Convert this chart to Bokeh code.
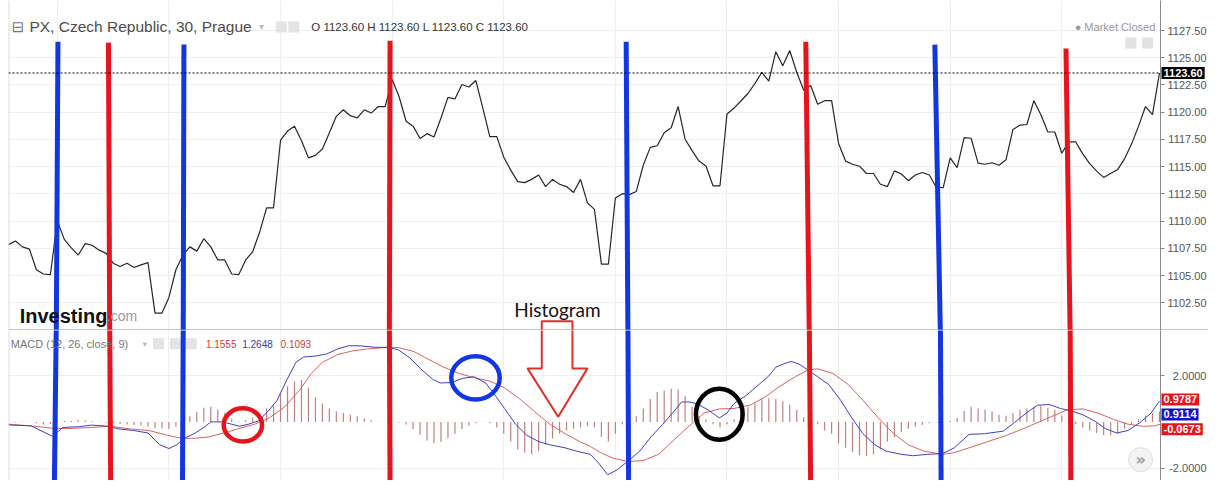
from bokeh.plotting import figure
from bokeh.layouts import column, row
from bokeh.models import Range1d, FixedTicker, Label, Span, NumeralTickFormatter, LinearAxis
from bokeh.embed import file_html
from bokeh.resources import INLINE

# ---------------- data ----------------
bars = list(range(166))
price = [
    1107.84, 1108.17, 1107.63, 1107.42, 1105.53, 1105.14, 1105.08, 1110.00, 1108.32, 1107.54,
    1106.88, 1107.93, 1107.78, 1107.33, 1107.03, 1106.13, 1105.83, 1106.13, 1105.74, 1105.98,
    1106.19, 1101.55, 1101.55, 1102.99, 1105.53, 1106.88, 1107.63, 1107.24, 1108.38, 1107.63,
    1106.43, 1106.43, 1105.14, 1105.08, 1106.43, 1107.18, 1108.97, 1111.22, 1111.22, 1117.43,
    1118.27, 1118.72, 1117.37, 1115.81, 1116.03, 1116.62, 1118.12, 1119.62, 1120.22, 1119.68,
    1119.47, 1120.22, 1119.92, 1120.52, 1120.52, 1123.00, 1121.42, 1119.17, 1118.72, 1117.58,
    1118.03, 1117.73, 1119.47, 1121.36, 1121.21, 1122.55, 1122.32, 1122.91, 1120.37, 1117.76,
    1117.76, 1115.87, 1114.68, 1113.62, 1113.53, 1113.83, 1114.23, 1113.17, 1113.83, 1113.38,
    1113.17, 1112.63, 1113.83, 1111.67, 1111.08, 1106.04, 1106.04, 1112.12, 1112.52, 1112.43,
    1112.72, 1115.13, 1116.77, 1116.92, 1118.12, 1118.57, 1120.52, 1117.52, 1116.47, 1115.51,
    1115.04, 1113.24, 1113.24, 1119.83, 1120.37, 1121.03, 1121.72, 1122.62, 1123.67, 1122.86,
    1125.56, 1124.26, 1125.67, 1123.67, 1122.01, 1122.46, 1120.73, 1121.06, 1121.06, 1117.13,
    1115.51, 1115.22, 1115.04, 1114.37, 1114.37, 1113.38, 1113.17, 1114.61, 1114.32, 1113.71,
    1114.23, 1114.46, 1114.23, 1113.11, 1113.08, 1115.81, 1114.91, 1117.67, 1117.61, 1115.33,
    1115.22, 1115.36, 1115.13, 1115.63, 1118.42, 1118.81, 1118.87, 1121.06, 1119.77, 1118.18,
    1118.18, 1116.23, 1117.27, 1117.27, 1116.17, 1115.27, 1114.59, 1114.01, 1114.37, 1114.73,
    1115.72, 1117.07, 1118.72, 1120.52, 1119.77, 1123.60,
]
hist = [
    0.02, -0.02, 0.03, 0.02, -0.05, -0.10, -0.08, 0.05, 0.06, 0.05,
    0.08, 0.07, 0.04, 0.02, -0.03, -0.05, -0.08, -0.10, -0.12, -0.15,
    -0.20, -0.25, -0.28, -0.30, -0.20, -0.10, 0.25, 0.45, 0.62, 0.66,
    0.55, 0.40, 0.15, 0.03, 0.08, 0.20, 0.35, 0.59, 0.73, 1.21,
    1.55, 1.76, 1.82, 1.48, 1.07, 0.80, 0.59, 0.46, 0.39, 0.32,
    0.25, 0.16, 0.08, 0.02, 0.01, 0.00, -0.02, -0.10, -0.30, -0.55,
    -0.80, -0.90, -0.85, -0.70, -0.50, -0.30, -0.15, -0.05, 0.02, -0.05,
    -0.23, -0.50, -0.84, -1.18, -1.32, -1.39, -1.25, -0.98, -0.70, -0.50,
    -0.36, -0.29, -0.23, -0.16, -0.23, -0.63, -0.84, -0.50, -0.09, 0.00,
    0.25, 0.59, 1.00, 1.30, 1.37, 1.44, 1.41, 1.14, 0.66, 0.25,
    0.12, -0.09, -0.23, -0.09, 0.12, 0.46, 0.66, 0.80, 0.98, 1.03,
    1.00, 0.89, 0.76, 0.53, 0.21, 0.02, -0.09, -0.36, -0.50, -0.91,
    -1.11, -1.29, -1.43, -1.46, -1.39, -1.18, -0.84, -0.64, -0.43, -0.29,
    -0.20, -0.12, -0.05, -0.02, -0.01, 0.05, 0.18, 0.48, 0.66, 0.59,
    0.53, 0.46, 0.32, 0.28, 0.39, 0.53, 0.59, 0.66, 0.70, 0.62,
    0.53, 0.29, 0.05, -0.09, -0.23, -0.36, -0.47, -0.57, -0.57, -0.50,
    -0.29, -0.09, 0.12, 0.29, 0.39, 0.46,
]
macd_x = [
    0, 3.2, 6.3, 7.8, 10, 11.9, 14.1, 15.7, 17.9, 20,
    21.7, 23, 24.1, 25.2, 26.6, 28, 29, 30.6, 32, 33.1,
    34.4, 35.8, 37.2, 38.5, 39.9, 41.2, 42.3, 43.9, 45.6, 47.2,
    48.8, 50.5, 52.6, 54.5, 55.9, 57.5, 59.1, 60.8, 61.9, 63.5,
    65.1, 66.7, 68.4, 69.5, 71.1, 72.7, 74.3, 76, 77.6, 79.8,
    81.4, 83.4, 84.5, 85.9, 87.2, 88.9, 90.5, 92.1, 93.8, 95.4,
    96.5, 97.6, 98.6, 100.3, 101.9, 103, 104, 105.7, 107.3, 108.9,
    110, 111.1, 112.2, 113.3, 114.7, 116, 117.6, 119.3, 120.9, 122.5,
    124.2, 125.8, 128, 129.6, 131.8, 133.9, 135.6, 137.7, 139.9, 142.6,
    144.2, 145.9, 147.5, 149.2, 150.8, 152.4, 154, 155.7, 157.3, 158.9,
    160.5, 162.2, 163.8, 165,
]
macd_y = [
    -0.12, -0.16, -0.61, -0.23, -0.20, -0.13, -0.17, -0.29, -0.36, -0.47,
    -0.98, -1.14, -0.98, -0.70, -0.50, -0.23, 0.01, 0.01, -0.09, -0.18,
    -0.09, 0.05, 0.46, 0.94, 1.82, 2.58, 2.81, 2.85, 2.94, 3.16,
    3.30, 3.29, 3.23, 3.22, 3.12, 2.78, 2.30, 1.85, 1.69, 1.71,
    1.89, 1.96, 1.69, 1.27, 0.59, -0.09, -0.57, -0.84, -0.98, -1.11,
    -1.25, -1.39, -1.73, -2.27, -2.07, -1.66, -1.25, -0.64, -0.09, 0.46,
    0.87, 0.87, 0.80, 0.53, 0.18, 0.39, 0.80, 1.14, 1.55, 1.96,
    2.37, 2.51, 2.62, 2.51, 2.23, 1.96, 1.62, 0.94, 0.18, -0.50,
    -0.98, -1.25, -1.39, -1.45, -1.39, -1.36, -1.11, -0.53, -0.50, -0.39,
    -0.02, 0.39, 0.73, 0.76, 0.59, 0.48, 0.32, 0.05, -0.29, -0.47,
    -0.36, -0.02, 0.39, 0.91,
]
signal_x = [
    0, 3.8, 6.5, 9.2, 11.9, 14.6, 17.3, 20.1, 22.8, 24.9,
    26.6, 28.7, 30.9, 33.1, 35.3, 37.4, 39.6, 41.8, 43.4, 45.0,
    47.2, 49.4, 51.5, 54.3, 55.9, 58.1, 60.2, 62.4, 64.6, 66.7,
    68.9, 71.1, 73.3, 75.4, 77.6, 79.8, 81.9, 83.4, 85.1, 86.7,
    88.9, 91.0, 93.2, 95.4, 97.6, 99.7, 101.9, 104, 106.3, 108.4,
    110.6, 112.8, 114.7, 116, 118.2, 120.4, 122.5, 124.7, 126.9, 129,
    131.2, 133.9, 135.6, 137.7, 140.4, 143.1, 145.9, 148.6, 151.8, 154,
    156.2, 158.4, 160.5, 162.7, 164.3, 165.1,
]
signal_y = [
    -0.09, -0.18, -0.27, -0.27, -0.23, -0.18, -0.29, -0.36, -0.57, -0.70,
    -0.70, -0.64, -0.47, -0.27, -0.09, 0.18, 0.66, 1.41, 2.10, 2.58,
    2.92, 3.08, 3.16, 3.23, 3.22, 3.05, 2.71, 2.37, 2.10, 1.92,
    1.78, 1.48, 1.00, 0.46, -0.09, -0.50, -0.84, -1.05, -1.35, -1.56,
    -1.70, -1.66, -1.39, -0.77, -0.16, 0.39, 0.57, 0.59, 0.73, 1.07,
    1.55, 1.96, 2.26, 2.30, 2.10, 1.62, 0.94, 0.18, -0.50, -0.98,
    -1.25, -1.39, -1.32, -1.11, -0.84, -0.57, -0.23, 0.12, 0.53, 0.57,
    0.39, 0.12, -0.09, -0.18, -0.16, -0.09,
]
price_ticks = [1102.5, 1105.0, 1107.5, 1110.0, 1112.5, 1115.0, 1117.5, 1120.0, 1122.5, 1125.0, 1127.5]
macd_ticks = [-2.0, 2.0]
grid_bars = [7, 23, 39, 55, 71, 87, 103, 119, 135, 151]
last_price = 1123.60
macd_last = 0.9114
signal_last = -0.0673
hist_last = 0.9787
hover_values = ["1.1555", "1.2648", "0.1093"]

# annotation marks (hand-drawn lines, circles, arrow)
mark_x_top = [7.09, 14.33, 25.15, 54.7, 88.55, 114.3, 132.8, 151.6]
mark_x_mid = [6.85, 14.51, 25.05, 54.6, 88.8, 114.8, 133.6, 152.2]
mark_x_bot = [6.57, 14.65, 24.94, 54.7, 88.9, 115.0, 133.7, 152.3]
mark_y_top = [1126.48, 1126.39, 1126.21, 1126.57, 1126.48, 1126.48, 1126.21, 1125.85]
BLUE = "#1236e0"
RED = "#e8141c"
mark_colors = [BLUE, RED, BLUE, RED, BLUE, RED, BLUE, RED]
ring_x = [33.6, 66.95, 101.9]
ring_y = [-0.12, 1.91, 0.34]
ring_w = [5.5, 6.95, 6.7]
ring_h = [1.43, 1.87, 2.21]
ring_colors = ["#e8141c", "#1236e0", "#000000"]

FONT = "Liberation Sans"
X0, X1 = 0.0, 165.15
P0, P1 = 1099.95, 1130.26
M0, M1 = -2.52, 3.955
FW = 1152
SW = 48
TOP_H, BOT_H = 330, 150
xr = Range1d(X0, X1)
yr_price = Range1d(P0, P1)
yr_macd = Range1d(M0, M1)


def txt(p, x, y, s, size="11px", color="#555555", font=FONT, align="left",
        baseline="middle", style="normal", **kw):
    p.add_layout(Label(x=x, y=y, text=s, text_font_size=size, text_color=color,
                       text_font=font, text_align=align, text_baseline=baseline,
                       text_font_style=style, **kw))


def panel(h, yr):
    p = figure(frame_width=FW, frame_height=h, x_range=xr, y_range=yr,
               x_axis_location=None, y_axis_location=None, toolbar_location=None,
               output_backend="svg", min_border=0, min_border_left=8)
    p.outline_line_color = None
    p.xgrid.ticker = FixedTicker(ticks=grid_bars)
    p.xgrid.grid_line_color = "#efefef"
    p.ygrid.grid_line_color = "#efefef"
    p.add_layout(Span(location=0.05, dimension="height", line_color="#cccccc", line_width=1))
    return p


def strip(h, yr, ticks, fmt):
    s = figure(frame_width=SW, frame_height=h, x_range=Range1d(0, 1), y_range=yr,
               x_axis_location=None, y_axis_location=None, toolbar_location=None,
               output_backend="svg", min_border=0)
    s.outline_line_color = None
    s.xgrid.grid_line_color = None
    s.ygrid.grid_line_color = None
    ax = LinearAxis(ticker=FixedTicker(ticks=ticks), formatter=NumeralTickFormatter(format=fmt))
    ax.major_label_text_font = FONT
    ax.major_label_text_font_size = "11px"
    ax.major_label_text_color = "#555555"
    ax.axis_line_color = "#8a8a8a"
    ax.major_tick_line_color = "#8a8a8a"
    ax.major_tick_out = 0
    ax.major_tick_in = 4
    ax.minor_tick_out = 0
    ax.minor_tick_in = 0
    ax.minor_tick_line_color = None
    ax.major_label_standoff = -46
    s.add_layout(ax, "left")
    return s


def value_box(s, y, text, color):
    s.add_layout(Label(x=0, y=y, x_offset=1, text=text, text_color="white", text_font=FONT,
                       text_font_size="11px", text_font_style="bold", padding=2,
                       text_baseline="middle", background_fill_color=color))


# ---------------- price panel ----------------
top = panel(TOP_H, yr_price)
top.ygrid.ticker = FixedTicker(ticks=price_ticks)
top.add_layout(Span(location=P0 + 0.05, dimension="width", line_color="#9a9a9a", line_width=1))
top.add_layout(Span(location=last_price, dimension="width", line_color="#000000",
                    line_width=1, line_dash="2 2"))

top.line(bars, price, line_color="#262626", line_width=1.2)

# header
txt(top, 0.45, 1127.83, "\u229f", size="15px", color="#777777", font="DejaVu Sans")
txt(top, 3.0, 1127.83, "PX, Czech Republic, 30, Prague", size="15.5px", color="#4d4d4d")
txt(top, 35.9, 1127.83, "\u25be", size="10px", color="#bbbbbb", font="DejaVu Sans")
top.rect([39.1, 40.9], [1127.83, 1127.83], width=11, height=11, width_units="screen",
         height_units="screen", fill_color="#e4e4e4", line_color=None)
ohlc = "O {0:.2f} H {0:.2f} L {0:.2f} C {0:.2f}".format(last_price)
txt(top, 43.4, 1127.83, ohlc, size="11.5px", color="#333333")
txt(top, 164.4, 1127.83, "\u25cf Market Closed", size="11px", color="#9a9a9a", align="right")
top.rect([160.9, 163.3], [1126.35, 1126.35], width=11, height=11, width_units="screen",
         height_units="screen", fill_color="#e2e2e2", line_color=None)

# logo
txt(top, 1.6, 1101.3, "Investing", size="20px", color="#111111", baseline="alphabetic", style="bold")
txt(top, 14.1, 1101.3, ".com", size="14px", color="#9a9a9a", baseline="alphabetic")

# histogram annotation text + arrow shaft (top part)
txt(top, 78.7, 1101.84, "Histogram", size="19px", color="#111111", font="Lato",
    align="center", baseline="alphabetic")
top.line([76.45, 76.45, 80.85, 80.85], [P0 - 1, 1100.8, 1100.8, P0 - 1],
         line_color="#e0302a", line_width=2)

# marker lines (top part)
top.segment(x0=mark_x_top, y0=mark_y_top, x1=mark_x_mid, y1=[P0 - 0.5] * 8,
            line_color=mark_colors, line_width=5, line_cap="butt")

top_axis = strip(TOP_H, yr_price, price_ticks, "0.00")
top_axis.add_layout(Span(location=P0 + 0.05, dimension="width", line_color="#9a9a9a", line_width=1))
value_box(top_axis, last_price, "{:.2f}".format(last_price), "#000000")

# ---------------- MACD panel ----------------
bot = panel(BOT_H, yr_macd)
bot.ygrid.ticker = FixedTicker(ticks=macd_ticks)

bot.segment(x0=bars, y0=[0] * len(bars), x1=bars, y1=hist, line_color="#b56b6b",
            line_width=1.2, line_alpha=0.85)
bot.line(signal_x, signal_y, line_color="#d9625f", line_width=1)
bot.line(macd_x, macd_y, line_color="#3f3fc4", line_width=1)

# header
txt(bot, 0.33, 3.38, "MACD (12, 26, close, 9)", size="11px", color="#777777")
txt(bot, 19.2, 3.38, "\u25be", size="9px", color="#bbbbbb", font="DejaVu Sans")
bot.rect([21.5, 23.9, 26.2], [3.38] * 3, width=11, height=11, width_units="screen",
         height_units="screen", fill_color="#e4e4e4", line_color=None)
txt(bot, 28.3, 3.38, hover_values[0], size="10px", color="#d0403c")
txt(bot, 33.5, 3.38, hover_values[1], size="10px", color="#3a3ab8")
txt(bot, 39.0, 3.38, hover_values[2], size="10px", color="#c0443f")

# rings
bot.ellipse(ring_x, ring_y, width=ring_w, height=ring_h, fill_color=None,
            line_color=ring_colors, line_width=4.5)

# arrow (lower part)
bot.line([76.45, 76.45, 74.4, 78.8, 83.0, 80.85, 80.85],
         [M1 + 1, 2.32, 2.32, 0.23, 2.32, 2.32, M1 + 1],
         line_color="#e0302a", line_width=2)

# marker lines (bottom part)
bot.segment(x0=mark_x_mid, y0=[M1 + 0.3] * 8, x1=mark_x_bot, y1=[M0 - 0.3] * 8,
            line_color=mark_colors, line_width=5, line_cap="butt")

# scroll button
bot.scatter([162.3], [-1.62], size=24, marker="circle", fill_color="#f3f3f3",
            line_color="#dddddd")
txt(bot, 162.3, -1.62, "\u00bb", size="16px", color="#9a9a9a", align="center",
    font="DejaVu Sans", style="bold")

bot_axis = strip(BOT_H, yr_macd, macd_ticks, "0.0000")
value_box(bot_axis, 0.9787, "{:.4f}".format(hist_last), "#e8141c")
value_box(bot_axis, 0.33, "{:.4f}".format(macd_last), "#1111cc")
value_box(bot_axis, -0.31, "{:.4f}".format(signal_last), "#e8141c")

layout = column(row(top, top_axis), row(bot, bot_axis))
open("out.html", "w").write(file_html(layout, INLINE))
